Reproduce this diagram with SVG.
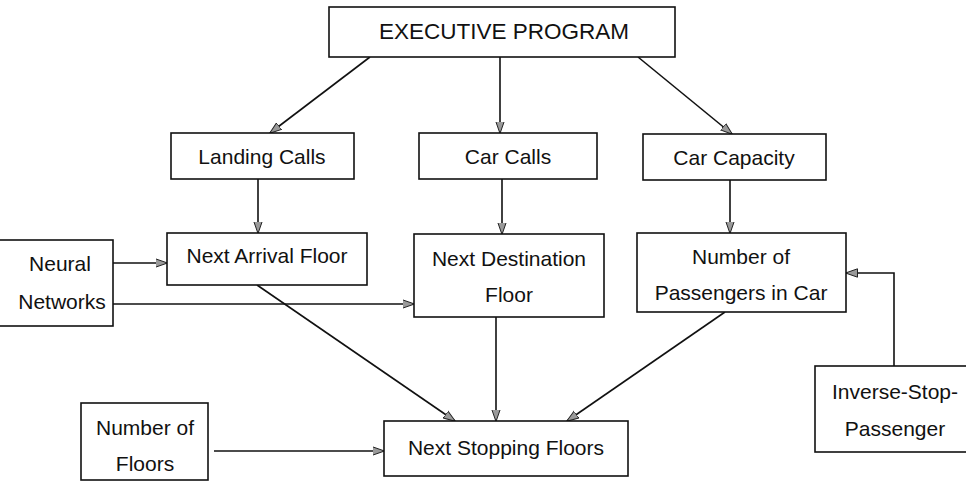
<svg xmlns="http://www.w3.org/2000/svg" width="966" height="482" viewBox="0 0 966 482">
<style>
.box{fill:#fff;stroke:#111;stroke-width:1.6}
.t{font-family:"Liberation Sans",Arial,sans-serif;font-size:21px;fill:#111;text-anchor:middle;dominant-baseline:central}
.t2{font-size:22.5px}
.c{fill:none;stroke:#111;stroke-width:1.6;marker-end:url(#ah)}
</style>
<defs>
<marker id="ah" viewBox="0 0 12 10" refX="11.5" refY="5" markerWidth="12" markerHeight="10" markerUnits="userSpaceOnUse" orient="auto">
<path d="M0,0.8 L12,5 L0,9.2 Z" fill="#9a9a9a" stroke="#222" stroke-width="1"/>
</marker>
</defs>
<rect width="966" height="482" fill="#fff"/>
<g id="connectors">
<line class="c" x1="370" y1="57" x2="270" y2="133"/>
<line class="c" x1="500" y1="57" x2="500" y2="133"/>
<line class="c" x1="638" y1="57" x2="732" y2="134"/>
<line class="c" x1="258" y1="179" x2="258" y2="233"/>
<line class="c" x1="502" y1="179" x2="502" y2="234"/>
<line class="c" x1="730" y1="180" x2="730" y2="233"/>
<line class="c" x1="113" y1="263" x2="167" y2="263"/>
<line class="c" x1="113" y1="304" x2="414" y2="304"/>
<line class="c" x1="257" y1="285" x2="455" y2="421"/>
<line class="c" x1="496" y1="317" x2="496" y2="421"/>
<line class="c" x1="725" y1="312" x2="567" y2="421"/>
<polyline class="c" points="894,366 894,273 846,273"/>
<line class="c" x1="214" y1="451" x2="384" y2="451"/>
</g>
<g id="executive"><rect class="box" x="329" y="7" width="346" height="50"/><text class="t t2" x="504" y="31">EXECUTIVE PROGRAM</text></g>
<g id="landing-calls"><rect class="box" x="171" y="133" width="183" height="46"/><text class="t" x="262" y="156">Landing Calls</text></g>
<g id="car-calls"><rect class="box" x="419" y="133" width="178" height="46"/><text class="t" x="508" y="156">Car Calls</text></g>
<g id="car-capacity"><rect class="box" x="643" y="134" width="183" height="46"/><text class="t" x="734" y="157">Car Capacity</text></g>
<g id="neural-networks"><rect class="box" x="-2" y="240" width="115" height="86"/><text class="t" x="60" y="263">Neural</text><text class="t" x="62" y="301">Networks</text></g>
<g id="next-arrival"><rect class="box" x="167" y="233" width="200" height="52"/><text class="t" x="267" y="255">Next Arrival Floor</text></g>
<g id="next-destination"><rect class="box" x="414" y="234" width="190" height="83"/><text class="t" x="509" y="258">Next Destination</text><text class="t" x="509" y="294">Floor</text></g>
<g id="passengers"><rect class="box" x="637" y="233" width="209" height="79"/><text class="t" x="741" y="256">Number of</text><text class="t" x="741" y="292">Passengers in Car</text></g>
<g id="inverse-stop"><rect class="box" x="815" y="366" width="160" height="86"/><text class="t" x="895" y="391">Inverse-Stop-</text><text class="t" x="895" y="428">Passenger</text></g>
<g id="number-floors"><rect class="box" x="81" y="403" width="127" height="77"/><text class="t" x="145" y="427">Number of</text><text class="t" x="145" y="463">Floors</text></g>
<g id="next-stopping"><rect class="box" x="384" y="421" width="244" height="55"/><text class="t" x="506" y="447">Next Stopping Floors</text></g>
</svg>
